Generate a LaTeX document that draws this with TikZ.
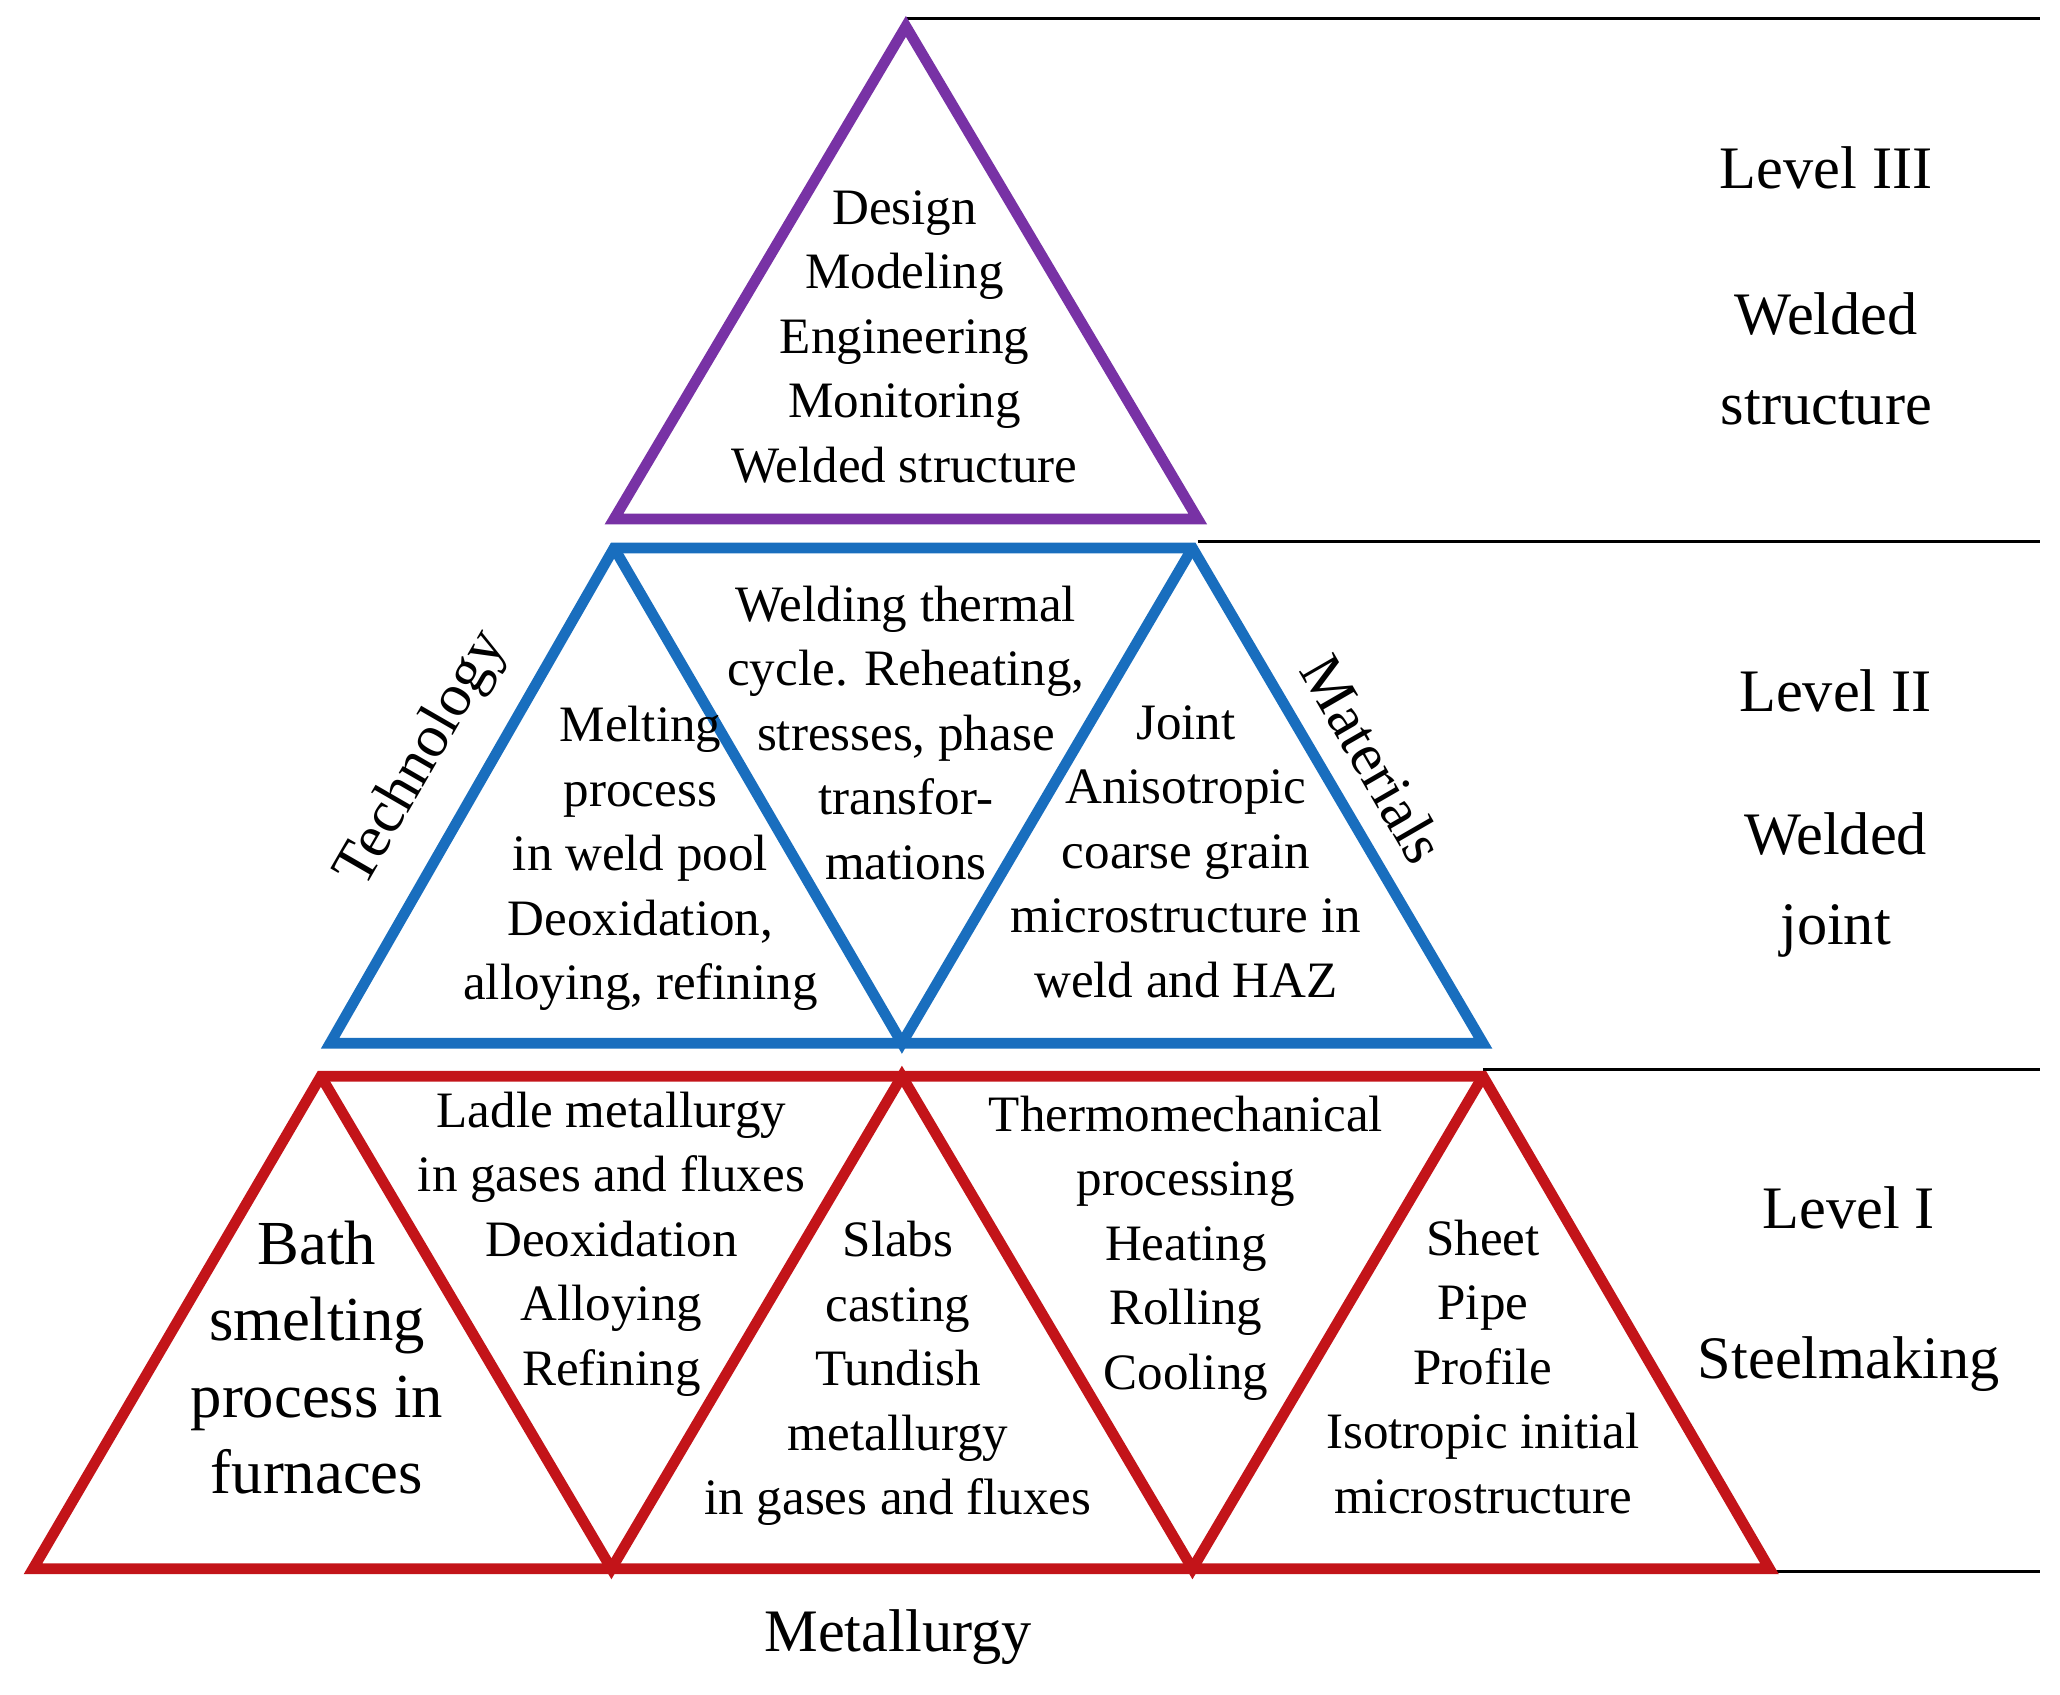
\documentclass[tikz,border=0pt]{standalone}
\usepackage{fontspec}
\setmainfont{Liberation Serif}
\usetikzlibrary{positioning}
\definecolor{lvlthree}{RGB}{120,50,165}
\definecolor{lvltwo}{RGB}{25,110,190}
\definecolor{lvlone}{RGB}{195,20,25}
\begin{document}
\begin{tikzpicture}[
  x=1cm, y=-1cm,
  tri/.style={line width=2.3pt, line join=miter},
  txt/.style={align=center, font=\fontsize{11}{13.9}\selectfont},
  big/.style={align=center, font=\fontsize{13.5}{16.5}\selectfont},
  lvl/.style={align=center, font=\fontsize{13}{16.5}\selectfont}
]
\useasboundingbox (0,0) rectangle (15.6,12.83);

% level lines
\draw[thick] (6.86,0.14) -- (15.45,0.14);
\draw[thick] (9.07,4.10) -- (15.45,4.10);
\draw[thick] (11.23,8.10) -- (15.45,8.10);
\draw[thick] (13.40,11.90) -- (15.45,11.90);

% level III
\draw[tri, draw=lvlthree] (6.86,0.20) -- (9.07,3.93) -- (4.65,3.93) -- cycle;
\node[txt] (design) at (6.85,2.55) {Design\\Modeling\\Engineering\\Monitoring\\Welded structure};

% level II
\draw[tri, draw=lvltwo] (4.65,4.15) -- (9.03,4.15) -- (11.23,7.90) -- (2.50,7.90) -- cycle;
\draw[tri, draw=lvltwo] (4.65,4.15) -- (6.83,7.90) -- (9.03,4.15);
\node[txt] (melting) at (4.85,6.50) {Melting\\process\\in weld pool\\Deoxidation,\\alloying, refining};
\node[txt] (thermal) at (6.86,5.55) {Welding thermal\\cycle. Reheating,\\stresses, phase\\transfor-\\mations};
\node[txt] (joint) at (8.98,6.45) {Joint\\Anisotropic\\coarse grain\\microstructure in\\weld and HAZ};

% level I
\draw[tri, draw=lvlone] (2.43,8.15) -- (11.23,8.15) -- (13.40,11.88) -- (0.25,11.88) -- cycle;
\draw[tri, draw=lvlone] (2.43,8.15) -- (4.63,11.88) -- (6.83,8.15) -- (9.03,11.88) -- (11.23,8.15);
\node[big] (bath) at (2.40,10.28) {Bath\\smelting\\process in\\furnaces};
\node[txt] (ladle) at (4.63,9.42) {Ladle metallurgy\\in gases and fluxes\\Deoxidation\\Alloying\\Refining};
\node[txt] (slabs) at (6.80,10.40) {Slabs\\casting\\Tundish\\metallurgy\\in gases and fluxes};
\node[txt] (thermo) at (8.98,9.45) {Thermomechanical\\processing\\Heating\\Rolling\\Cooling};
\node[txt] (sheet) at (11.23,10.35) {Sheet\\Pipe\\Profile\\Isotropic initial\\microstructure};

% side labels
\node[lvl, rotate=60] (technology) at (3.20,5.75) {Technology};
\node[lvl, rotate=-60] (materials) at (10.40,5.75) {Materials};
\node[lvl] (metallurgy) at (6.80,12.40) {Metallurgy};

% level names
\node[lvl] (l3) at (13.83,1.27) {Level III};
\node[lvl] (w3) at (13.83,2.72) {Welded\\[0.1cm]structure};
\node[lvl] (l2) at (13.90,5.23) {Level II};
\node[lvl] (w2) at (13.90,6.70) {Welded\\[0.1cm]joint};
\node[lvl] (l1) at (14.00,9.15) {Level I};
\node[lvl] (w1) at (14.00,10.33) {Steelmaking};
\end{tikzpicture}
\end{document}
